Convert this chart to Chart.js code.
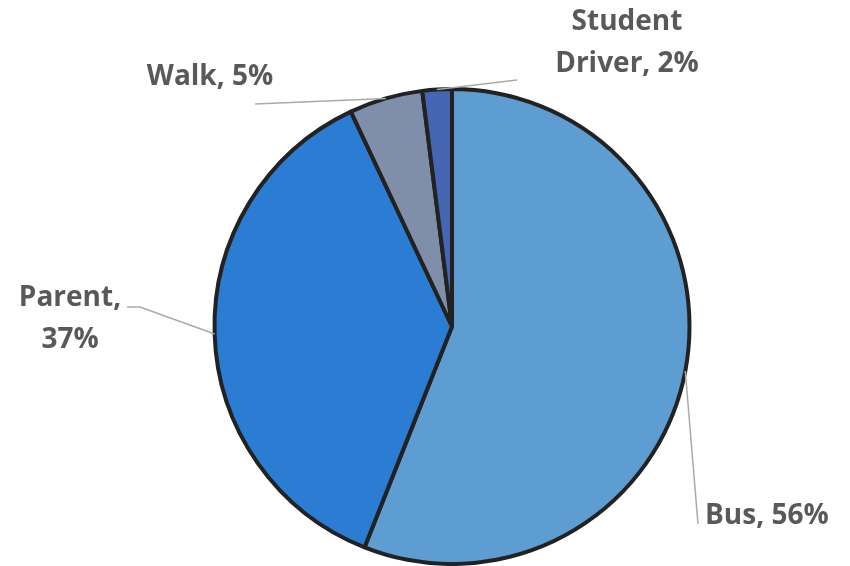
<!DOCTYPE html>
<html>
<head>
<meta charset="utf-8">
<script src="https://cdn.jsdelivr.net/npm/chart.js@4.4.0/dist/chart.umd.min.js"></script>
<style>
  html, body { margin: 0; padding: 0; background: #ffffff; }
  #wrap { width: 850px; height: 566px; }
</style>
</head>
<body>
<div id="wrap"><canvas id="pie" width="850" height="566"></canvas></div>
<script>
const categories = ['Bus', 'Parent', 'Walk', 'Student Driver']
const shares = [56, 37, 5, 2]
const colors = ['#5E9DD2', '#2B7DD4', '#7F8FA9', '#4666B1']

// where each label sits (text anchor) and the elbow of its leader line
const labelLayout = [
  { lines: ['Bus, 56%'], x: 705, y: 516, align: 'left', end: [698, 524] },
  { lines: ['Parent,', '37%'], x: 70, y: 298, align: 'center', end: [140, 307], tail: [127, 307] },
  { lines: ['Walk, 5%'], x: 210, y: 77, align: 'center', end: [255, 104] },
  { lines: ['Student', 'Driver, 2%'], x: 627, y: 22, align: 'center', end: [517, 80] }
]

const labelPlugin = {
  id: 'leaderLabels',
  afterDatasetsDraw(chart) {
    const ctx = chart.ctx
    const meta = chart.getDatasetMeta(0)
    meta.data.forEach((arc, i) => {
      const p = arc.getProps(['x', 'y', 'startAngle', 'endAngle', 'outerRadius'], true)
      const mid = (p.startAngle + p.endAngle) / 2
      const sx = p.x + Math.cos(mid) * p.outerRadius
      const sy = p.y + Math.sin(mid) * p.outerRadius
      const lay = labelLayout[i]
      ctx.save()
      ctx.strokeStyle = '#AAAAAA'
      ctx.lineWidth = 1.5
      ctx.beginPath()
      ctx.moveTo(sx, sy)
      ctx.lineTo(lay.end[0], lay.end[1])
      if (lay.tail) ctx.lineTo(lay.tail[0], lay.tail[1])
      ctx.stroke()
      ctx.fillStyle = '#595959'
      ctx.font = 'bold 28px "Open Sans"'
      ctx.textAlign = lay.align
      ctx.textBaseline = 'middle'
      lay.lines.forEach((t, k) => ctx.fillText(t, lay.x, lay.y + k * 42))
      ctx.restore()
    })
  }
}

new Chart(document.getElementById('pie'), {
  type: 'pie',
  data: {
    labels: categories,
    datasets: [{
      data: shares,
      backgroundColor: colors,
      borderColor: '#222222',
      borderWidth: 4
    }]
  },
  options: {
    responsive: false,
    animation: false,
    layout: { padding: { left: 212, right: 158, top: 87, bottom: -1 } },
    plugins: {
      legend: { display: false },
      tooltip: { enabled: false }
    }
  },
  plugins: [labelPlugin]
})
</script>
</body>
</html>
